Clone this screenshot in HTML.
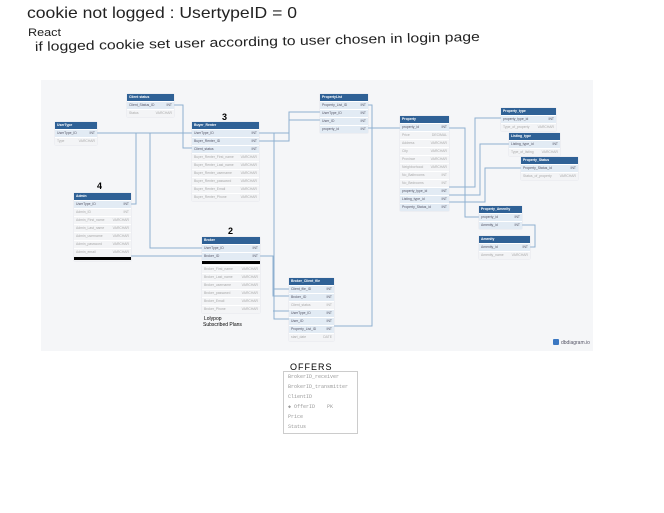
<!DOCTYPE html>
<html><head><meta charset="utf-8"><style>
body{margin:0;width:664px;height:513px;background:#fff;position:relative;overflow:hidden;font-family:"Liberation Sans",sans-serif}
.bg{position:absolute;left:41px;top:80px;width:552px;height:271px;background:#f5f6f8}
.t{position:absolute;background:#f3f4f6;font-size:3.4px;box-shadow:0 0 1px #ccd}
.h{background:#2f6196;color:#fff;height:7px;line-height:7px;padding-left:2px;font-weight:bold}
.r{height:7px;line-height:7px;padding:0 2px;color:#aaa;display:flex;justify-content:space-between;border-top:0.5px solid #fff}
.k{background:#e2ebf4;color:#556}
.bar{height:3px;background:#000;margin:1px 0}
svg{position:absolute;left:0;top:0}
.hw{font-family:"Liberation Sans",sans-serif;fill:#222}
.of{position:absolute;left:283px;top:371px;width:73px;height:61px;border:1px solid #ccc;background:#fff;font-family:"Liberation Mono",monospace;font-size:5px;color:#999}
.of div{height:10px;line-height:10px;padding-left:4px}
</style></head><body>
<div class="bg"></div>
<svg width="664" height="513">
<text class="hw" x="27" y="18" font-size="16" textLength="270" lengthAdjust="spacingAndGlyphs">cookie not logged : UsertypeID = 0</text>
<text class="hw" x="28" y="36" font-size="11" textLength="33" lengthAdjust="spacingAndGlyphs">React</text>
<text class="hw" x="35" y="51" font-size="13" textLength="445" lengthAdjust="spacingAndGlyphs" transform="rotate(-1.3 35 50)">if logged cookie set user according to user chosen in login page</text>
<g fill="none" stroke="#8fb0d0" stroke-width="1">
<polyline points="97,133 192,133"/>
<polyline points="136,133 136,204 131,204"/>
<polyline points="150,133 150,248 202,248"/>
<polyline points="174,105 183,105 183,148 192,148"/>
<polyline points="131,256 202,256"/>
<polyline points="259,133 289,133 289,112 320,112"/>
<polyline points="259,141 289,141 289,120 320,120"/>
<polyline points="259,133 274,133 274,319 289,319"/>
<polyline points="274,289 289,289"/>
<polyline points="260,256 273,256 273,296 289,296"/>
<polyline points="273,311 289,311"/>
<polyline points="334,326 372,326 372,105 368,105"/>
<polyline points="368,128 400,128"/>
<polyline points="449,128 465,128 465,217 479,217"/>
<polyline points="449,187 475,187 475,118 501,118"/>
<polyline points="449,195 480,195 480,144 509,144"/>
<polyline points="449,202 485,202 485,168 521,168"/>
<polyline points="522,225 535,225 535,247 530,247"/>
</g>
<text x="222" y="120" font-size="9" font-weight="bold">3</text>
<text x="97" y="189" font-size="9" font-weight="bold">4</text>
<text x="228" y="234" font-size="9" font-weight="bold">2</text>
<text x="204" y="320" font-size="5">Lolypop</text>
<text x="203" y="326" font-size="5">Subscribed Plans</text>
<text x="290" y="370" font-size="9" letter-spacing="1">OFFERS</text>
<rect x="553" y="339" width="6" height="6" rx="1" fill="#3b78c2"/>
<text x="561" y="344" font-size="5" fill="#556">dbdiagram.io</text>
</svg>

<div class="t" style="left:55px;top:122px;width:42px"><div class="h">UserType</div><div class="r k"><span>UserType_ID</span><span>INT</span></div><div class="r"><span>Type</span><span>VARCHAR</span></div></div>
<div class="t" style="left:127px;top:94px;width:47px"><div class="h">Client status</div><div class="r k"><span>Client_Status_ID</span><span>INT</span></div><div class="r"><span>Status</span><span>VARCHAR</span></div></div>
<div class="t" style="left:192px;top:122px;width:67px"><div class="h">Buyer_Renter</div><div class="r k"><span>UserType_ID</span><span>INT</span></div><div class="r k"><span>Buyer_Renter_ID</span><span>INT</span></div><div class="r k"><span>Client_status</span><span>INT</span></div><div class="r"><span>Buyer_Renter_First_name</span><span>VARCHAR</span></div><div class="r"><span>Buyer_Renter_Last_name</span><span>VARCHAR</span></div><div class="r"><span>Buyer_Renter_username</span><span>VARCHAR</span></div><div class="r"><span>Buyer_Renter_password</span><span>VARCHAR</span></div><div class="r"><span>Buyer_Renter_Email</span><span>VARCHAR</span></div><div class="r"><span>Buyer_Renter_Phone</span><span>VARCHAR</span></div></div>
<div class="t" style="left:74px;top:193px;width:57px"><div class="h">Admin</div><div class="r k"><span>UserType_ID</span><span>INT</span></div><div class="r"><span>Admin_ID</span><span>INT</span></div><div class="r"><span>Admin_First_name</span><span>VARCHAR</span></div><div class="r"><span>Admin_Last_name</span><span>VARCHAR</span></div><div class="r"><span>Admin_username</span><span>VARCHAR</span></div><div class="r"><span>Admin_password</span><span>VARCHAR</span></div><div class="r"><span>Admin_email</span><span>VARCHAR</span></div><div class="bar"></div></div>
<div class="t" style="left:202px;top:237px;width:58px"><div class="h">Broker</div><div class="r k"><span>UserType_ID</span><span>INT</span></div><div class="r k"><span>Broker_ID</span><span>INT</span></div><div class="bar"></div><div class="r"><span>Broker_First_name</span><span>VARCHAR</span></div><div class="r"><span>Broker_Last_name</span><span>VARCHAR</span></div><div class="r"><span>Broker_username</span><span>VARCHAR</span></div><div class="r"><span>Broker_password</span><span>VARCHAR</span></div><div class="r"><span>Broker_Email</span><span>VARCHAR</span></div><div class="r"><span>Broker_Phone</span><span>VARCHAR</span></div></div>
<div class="t" style="left:289px;top:278px;width:45px"><div class="h">Broker_Client_file</div><div class="r k"><span>Client_file_ID</span><span>INT</span></div><div class="r k"><span>Broker_ID</span><span>INT</span></div><div class="r"><span>Client_status</span><span>INT</span></div><div class="r k"><span>UserType_ID</span><span>INT</span></div><div class="r k"><span>User_ID</span><span>INT</span></div><div class="r k"><span>Property_List_ID</span><span>INT</span></div><div class="r"><span>start_date</span><span>DATE</span></div></div>
<div class="t" style="left:320px;top:94px;width:48px"><div class="h">PropertyList</div><div class="r k"><span>Property_List_ID</span><span>INT</span></div><div class="r k"><span>UserType_ID</span><span>INT</span></div><div class="r k"><span>User_ID</span><span>INT</span></div><div class="r k"><span>property_id</span><span>INT</span></div></div>
<div class="t" style="left:400px;top:116px;width:49px"><div class="h">Property</div><div class="r k"><span>property_id</span><span>INT</span></div><div class="r"><span>Price</span><span>DECIMAL</span></div><div class="r"><span>Address</span><span>VARCHAR</span></div><div class="r"><span>City</span><span>VARCHAR</span></div><div class="r"><span>Province</span><span>VARCHAR</span></div><div class="r"><span>Neighborhood</span><span>VARCHAR</span></div><div class="r"><span>No_Bathrooms</span><span>INT</span></div><div class="r"><span>No_Bedrooms</span><span>INT</span></div><div class="r k"><span>property_type_id</span><span>INT</span></div><div class="r k"><span>Listing_type_id</span><span>INT</span></div><div class="r k"><span>Property_Status_id</span><span>INT</span></div></div>
<div class="t" style="left:501px;top:108px;width:55px"><div class="h">Property_type</div><div class="r k"><span>property_type_id</span><span>INT</span></div><div class="r"><span>Type_of_property</span><span>VARCHAR</span></div></div>
<div class="t" style="left:509px;top:133px;width:51px"><div class="h">Listing_type</div><div class="r k"><span>Listing_type_id</span><span>INT</span></div><div class="r"><span>Type_of_listing</span><span>VARCHAR</span></div></div>
<div class="t" style="left:521px;top:157px;width:57px"><div class="h">Property_Status</div><div class="r k"><span>Property_Status_id</span><span>INT</span></div><div class="r"><span>Status_of_property</span><span>VARCHAR</span></div></div>
<div class="t" style="left:479px;top:206px;width:43px"><div class="h">Property_Amenity</div><div class="r k"><span>property_id</span><span>INT</span></div><div class="r k"><span>Amenity_id</span><span>INT</span></div></div>
<div class="t" style="left:479px;top:236px;width:51px"><div class="h">Amenity</div><div class="r k"><span>Amenity_id</span><span>INT</span></div><div class="r"><span>Amenity_name</span><span>VARCHAR</span></div></div>

<div class="of"><div>BrokerID_receiver</div><div>BrokerID_transmitter</div><div>ClientID</div><div>&#9670; OfferID &nbsp;&nbsp;&nbsp;PK</div><div>Price</div><div>Status</div></div>
</body></html>
